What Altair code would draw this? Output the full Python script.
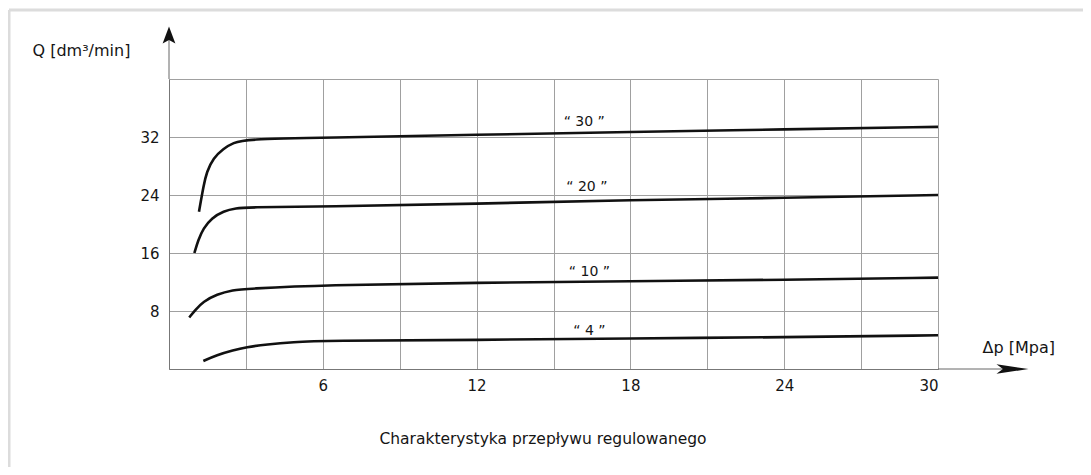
import altair as alt
import pandas as pd

# ---- data ----
series_names = ["“ 30 ”", "“ 20 ”", "“ 10 ”", "“ 4 ”"]

dp_30 = [1.17, 1.25, 1.34, 1.47, 1.73, 2.12, 2.51, 3.0, 6, 12, 18, 24, 30]
q_30 = [21.7, 23.3, 25.1, 27.2, 29.1, 30.4, 31.2, 31.7, 31.9, 32.3, 32.7, 33.05, 33.4]

dp_20 = [0.99, 1.14, 1.34, 1.66, 2.12, 2.64, 3.0, 6, 12, 18, 24, 30]
q_20 = [16.0, 17.8, 19.4, 20.8, 21.8, 22.2, 22.3, 22.4, 22.8, 23.3, 23.6, 24.0]

dp_10 = [0.79, 1.01, 1.34, 1.86, 2.51, 3.0, 6, 12, 18, 24, 30]
q_10 = [7.1, 8.1, 9.3, 10.3, 10.9, 11.05, 11.6, 11.9, 12.1, 12.3, 12.6]

dp_4 = [1.34, 1.86, 2.51, 3.0, 3.81, 4.85, 6, 12, 18, 24, 30]
q_4 = [1.1, 1.93, 2.6, 3.0, 3.4, 3.72, 3.9, 4.0, 4.23, 4.37, 4.65]

label_dp = [16.2, 16.3, 16.4, 16.4]
label_q = [34.1, 25.1, 13.4, 5.2]

x_grid = [0, 3, 6, 9, 12, 15, 18, 21, 24, 27, 30]
y_grid = [0, 4, 8, 12, 16, 20, 24, 28, 32, 36, 40]

x_title = "Δp [Mpa]"
y_title = "Q [dm³/min]"
caption = "Charakterystyka przepływu regulowanego"

FONT = "DejaVu Sans"
TXT = "#151515"

rows = []
for name, xs, ys in zip(series_names, [dp_30, dp_20, dp_10, dp_4], [q_30, q_20, q_10, q_4]):
    for a, b in zip(xs, ys):
        rows.append({"series": name, "dp": a, "q": b})
lines_df = pd.DataFrame(rows)
labels_df = pd.DataFrame({"label": series_names, "dp": label_dp, "q": label_q})
one = pd.DataFrame({"k": [0]})

W, H = 769, 290

xscale = alt.Scale(domain=[0, 30], nice=False, zero=False)
yscale = alt.Scale(domain=[0, 40], nice=False, zero=False)

x_axis = alt.Axis(
    values=x_grid,
    labelExpr="datum.value > 0 && datum.value % 6 == 0 ? datum.label : ''",
    grid=True, ticks=False, labelOverlap=False,
    labelPadding=9, labelFontSize=15, labelFont=FONT, labelColor=TXT,
    title=x_title, titleX=813, titleY=-22, titleAlign="left", titleBaseline="middle",
    titleFontSize=16, titleFont=FONT, titleFontWeight="normal", titleColor=TXT,
)
y_axis = alt.Axis(
    values=y_grid,
    labelExpr="datum.value > 0 && datum.value < 40 && datum.value % 8 == 0 ? datum.label : ''",
    grid=True, ticks=False, labelOverlap=False,
    labelPadding=10, labelFontSize=15, labelFont=FONT, labelColor=TXT,
    title=y_title, titleAngle=0, titleX=-137, titleY=-29, titleAlign="left",
    titleBaseline="middle", titleFontSize=16, titleFont=FONT, titleFontWeight="normal",
    titleColor=TXT,
)

lines = alt.Chart(lines_df).mark_line(
    interpolate="basis", color="#111", strokeWidth=2.6
).encode(
    x=alt.X("dp:Q", scale=xscale, axis=x_axis),
    y=alt.Y("q:Q", scale=yscale, axis=y_axis),
    detail="series:N",
    order="dp:Q",
)

labels = alt.Chart(labels_df).mark_text(
    font=FONT, fontSize=14, color=TXT, align="center", baseline="middle"
).encode(
    x=alt.X("dp:Q", scale=xscale),
    y=alt.Y("q:Q", scale=yscale),
    text="label:N",
)

# axis arrows
y_arrow_line = alt.Chart(one).mark_rule(color="#666", strokeWidth=1).encode(
    x=alt.value(0), y=alt.value(-45), y2=alt.value(0)
)
x_arrow_line = alt.Chart(one).mark_rule(color="#666", strokeWidth=1).encode(
    x=alt.value(W), x2=alt.value(850), y=alt.value(H)
)
y_head = alt.Chart(one).mark_point(
    shape="M0,-1L0.75,1L0,0.6L-0.75,1Z", filled=True, size=289, color="#111", opacity=1
).encode(x=alt.value(0), y=alt.value(-44))
x_head = alt.Chart(one).mark_point(
    shape="M1,0L-1,-0.3L-0.6,0L-1,0.3Z", filled=True, size=1024, color="#111", opacity=1
).encode(x=alt.value(843.5), y=alt.value(H))

# light frame at top and left
frame_top = alt.Chart(one).mark_rule(color="#dcdcdc", strokeWidth=3).encode(
    x=alt.value(-160), x2=alt.value(930), y=alt.value(-69)
)
frame_left = alt.Chart(one).mark_rule(color="#dcdcdc", strokeWidth=3).encode(
    x=alt.value(-160), y=alt.value(-69), y2=alt.value(400)
)

cap = alt.Chart(one).mark_text(
    font=FONT, fontSize=15.5, color=TXT, align="center", baseline="middle"
).encode(x=alt.value(374), y=alt.value(360), text=alt.value(caption))

chart = alt.layer(
    frame_top, frame_left, lines, labels, y_arrow_line, x_arrow_line, y_head, x_head, cap
).properties(
    width=W, height=H,
    autosize=alt.AutoSizeParams(type="none"),
    padding={"left": 161, "top": 71, "right": 145, "bottom": 98},
    background="white",
).configure_axis(
    gridColor="#a0a0a0", gridWidth=1, gridOpacity=1,
    domainColor="#777", domainWidth=1,
).configure_view(strokeWidth=0)

chart.save("out.html", embed_options={"renderer": "svg", "actions": False})
